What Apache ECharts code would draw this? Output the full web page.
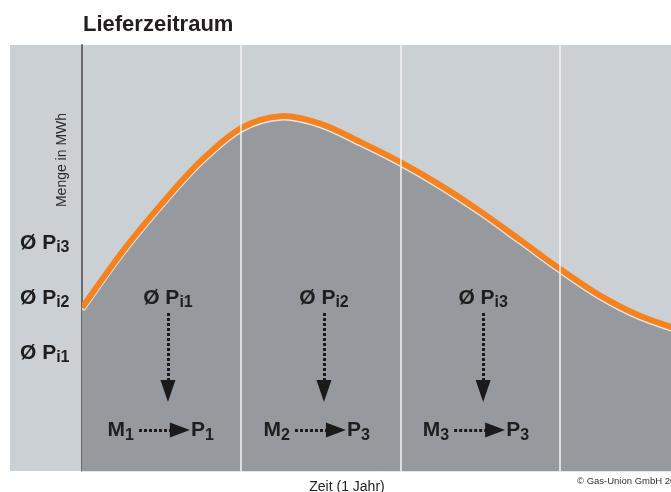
<!DOCTYPE html>
<html><head><meta charset="utf-8">
<script src="https://cdn.jsdelivr.net/npm/echarts@6/dist/echarts.min.js"></script>
<style>html,body{margin:0;padding:0;background:#fff}#c{width:671px;height:492px}</style>
</head><body><div id="c"></div>
<script>
const titleText = 'Lieferzeitraum';
const yAxisName = 'Menge in MWh';
const xAxisName = 'Zeit (1 Jahr)';
const copyright = '© Gas-Union GmbH 20';
// time position (in periods) and amount (relative)
const timeX  = [0, 0.25, 0.5, 0.75, 1.0, 1.25, 1.5, 1.75, 2.0, 2.25, 2.5, 2.75, 3.0, 3.25, 3.5, 3.75];
const amount = [38.3, 51.3, 62.7, 72.9, 80.5, 83.3, 81.5, 77.2, 72.5, 67.1, 61.0, 54.3, 47.5, 41.3, 36.5, 33.2];
const periodLines = [1, 2, 3];
const yTickValues = [27.7, 40.6, 53.5];
const yTickSubs = ['i1', 'i2', 'i3'];
const colX = [0.54, 1.52, 2.52];
const colSubs = ['i1', 'i2', 'i3'];
const fromM = ['1', '2', '3'];
const toP = ['1', '3', '3'];
const avgLabelY = 40.6, arrowTopY = 37.1, arrowEndY = 18.8, rowY = 9.6;

const FONT = '"Liberation Sans", Arial, sans-serif';
const rich = {
  b: {fontSize: 21, fontWeight: 'bold', fontFamily: FONT, color: '#1e1e1e', lineHeight: 26},
  s: {fontSize: 16, fontWeight: 'bold', fontFamily: FONT, color: '#1e1e1e', lineHeight: 18, verticalAlign: 'bottom'}
};

const curve = timeX.map((x, i) => [x, amount[i]]);

function smoothPath(pts) {
  let d = 'M' + pts[0][0] + ' ' + pts[0][1];
  for (let i = 0; i < pts.length - 1; i++) {
    const p0 = pts[Math.max(i - 1, 0)], p1 = pts[i], p2 = pts[i + 1], p3 = pts[Math.min(i + 2, pts.length - 1)];
    const c1x = p1[0] + (p2[0] - p0[0]) / 6, c1y = p1[1] + (p2[1] - p0[1]) / 6;
    const c2x = p2[0] - (p3[0] - p1[0]) / 6, c2y = p2[1] - (p3[1] - p1[1]) / 6;
    d += ' C' + c1x + ' ' + c1y + ' ' + c2x + ' ' + c2y + ' ' + p2[0] + ' ' + p2[1];
  }
  return d;
}

function renderCurve(params, api) {
  if (params.dataIndex !== 0) return null;
  const pts = curve.map(p => api.coord(p));
  const base = api.coord([0, 0])[1];
  const line = smoothPath(pts);
  const last = pts[pts.length - 1], first = pts[0];
  const area = line + ' L' + last[0] + ' ' + base + ' L' + first[0] + ' ' + base + ' Z';
  const cs = params.coordSys;
  return {
    type: 'group',
    clipPath: {type: 'rect', shape: {x: cs.x, y: cs.y, width: cs.width, height: cs.height}},
    children: [
      {type: 'path', shape: {pathData: area}, style: {fill: '#969a9e', stroke: null}},
      {type: 'path', shape: {pathData: line},
        style: {fill: null, stroke: '#f5821f', lineWidth: 6, lineJoin: 'round',
          shadowColor: '#e6e8ea', shadowBlur: 0, shadowOffsetX: 0, shadowOffsetY: 1.5}}
    ]
  };
}

const arrows = [];
const texts = [];
colX.forEach((cx, i) => {
  arrows.push([{coord: [cx, arrowTopY], symbol: 'none'}, {coord: [cx, arrowEndY], symbol: 'triangle', symbolSize: [15, 22]}]);
  arrows.push([{coord: [cx - 0.182, rowY], symbol: 'none'}, {coord: [cx + 0.075, rowY], symbol: 'triangle', symbolSize: [15, 20]}]);
  texts.push({coord: [cx, avgLabelY], label: {align: 'center', formatter: '{b|Ø P}{s|' + colSubs[i] + '}'}});
  texts.push({coord: [cx - 0.214, rowY], label: {align: 'right', formatter: '{b|M}{s|' + fromM[i] + '}'}});
  texts.push({coord: [cx + 0.145, rowY], label: {align: 'left', formatter: '{b|P}{s|' + toP[i] + '}'}});
});

const chart = echarts.init(document.getElementById('c'));
chart.setOption({
  animation: false,
  backgroundColor: '#ffffff',
  title: {text: titleText, left: 78, top: 9, textStyle: {fontSize: 22, fontWeight: 'bold', fontFamily: FONT, color: '#231f20'}},
  graphic: [
    {type: 'rect', z: -10, silent: true, shape: {x: 10, y: 45, width: 661, height: 426}, style: {fill: '#cbd0d4'}},
    {type: 'text', x: 62, y: 160, rotation: Math.PI / 2, silent: true,
      style: {text: yAxisName, fontSize: 14, fontFamily: FONT, fill: '#2b2b2b', align: 'center', verticalAlign: 'middle'}},
    {type: 'text', x: 347, y: 480, silent: true,
      style: {text: xAxisName, fontSize: 14, fontFamily: FONT, fill: '#222', align: 'center', verticalAlign: 'top'}},
    {type: 'text', x: 577, y: 476, silent: true,
      style: {text: copyright, fontSize: 9.5, fontFamily: FONT, fill: '#333', align: 'left', verticalAlign: 'top'}}
  ],
  grid: {left: 82, top: 45, right: 0, bottom: 21},
  xAxis: {type: 'value', min: 0, max: 3.7, interval: 1,
    axisLine: {show: true, lineStyle: {color: '#e4e7ea', width: 1}},
    axisTick: {show: false}, axisLabel: {show: false}, splitLine: {show: false}},
  yAxis: {type: 'value', min: 0, max: 100,
    axisLine: {show: true, lineStyle: {color: '#6b6b6b', width: 2}},
    axisTick: {show: false}, splitLine: {show: false},
    axisLabel: {show: true, customValues: yTickValues, align: 'left', margin: 62,
      formatter: v => { const k = yTickValues.indexOf(v); return k < 0 ? '' : '{b|Ø P}{s|' + yTickSubs[k] + '}'; },
      rich: rich}},
  series: [
    {type: 'custom', data: curve, renderItem: renderCurve, z: 2, silent: true,
      encode: {x: 0, y: 1}},
    {type: 'line', data: [], z: 6,
      markLine: {silent: true, symbol: ['none', 'none'], label: {show: false}, z: 6,
        lineStyle: {color: '#f4f5f6', width: 1.5, type: 'solid'},
        emphasis: {disabled: true},
        data: periodLines.map(v => ({xAxis: v}))}
    },
    {type: 'line', data: [], z: 7,
      markLine: {silent: true, symbol: ['none', 'triangle'], label: {show: false}, z: 7,
        lineStyle: {color: '#1a1a1a', width: 3, type: [3, 2], opacity: 1},
        itemStyle: {color: '#1a1a1a'},
        emphasis: {disabled: true},
        data: arrows},
      markPoint: {silent: true, symbol: 'rect', symbolSize: 0, z: 8,
        itemStyle: {color: 'transparent'},
        label: {show: true, position: 'inside', verticalAlign: 'middle', rich: rich},
        data: texts}
    }
  ]
});
</script></body></html>
